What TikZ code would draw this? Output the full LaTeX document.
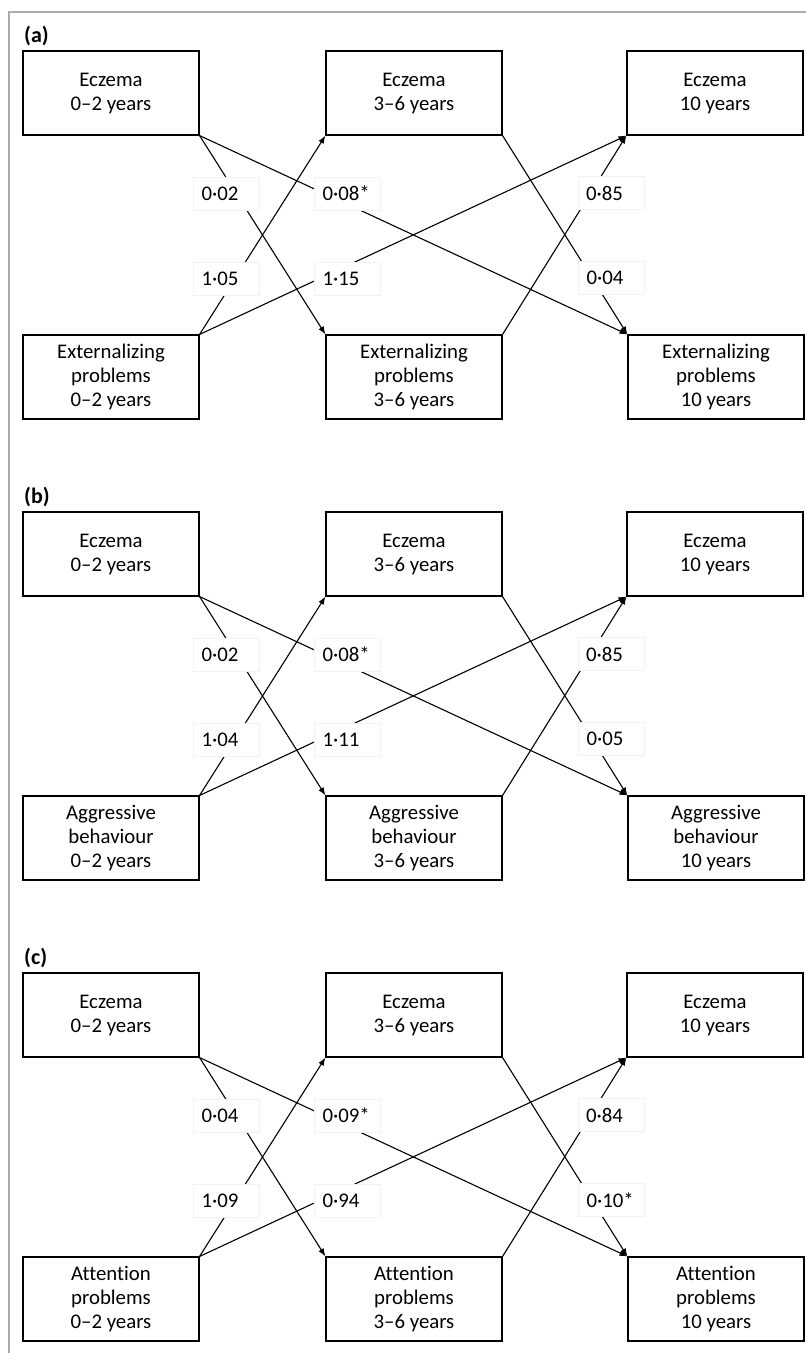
\documentclass[tikz,border=0pt]{standalone}
\usepackage{fontspec}
\setmainfont{Carlito}[Ligatures=NoCommon]
\usetikzlibrary{arrows.meta}
\tikzset{
  box/.style={draw, line width=1.1pt, minimum width=176pt, minimum height=84pt,
    align=center, inner sep=0pt, font=\fontsize{20.8}{24}\selectfont},
  lab/.style={fill=white, draw=black!5, line width=0.6pt, minimum height=33pt,
    text width=50pt, align=left, inner xsep=8pt, inner ysep=0pt,
    font=\fontsize{20.8}{24}\selectfont},
  arr/.style={line width=1.1pt, -{Latex[length=8pt,width=6pt]}},
  ptitle/.style={font=\fontsize{22}{24}\selectfont\bfseries, anchor=west, inner sep=0pt},
  frame/.style={draw=black!33, line width=2pt}
}
% #1 offset, #2 prefix, #3 letter, #4 bottom text, #5..#9 + \labsix
\newcommand{\mypanel}[9]{%
  \begin{scope}[yshift=-#1pt]
    \node[ptitle] (#2t) at (24,36) {(#3)};
    \node[box] (#2e02) at (111,93) {Eczema\\0–2 years};
    \node[box] (#2e36) at (414,93) {Eczema\\3–6 years};
    \node[box] (#2e10) at (715,93) {Eczema\\10 years};
    \node[box] (#2x02) at (111,377) {#4\\0–2 years};
    \node[box] (#2x36) at (414,377) {#4\\3–6 years};
    \node[box] (#2x10) at (716,377) {#4\\10 years};
    \draw[arr] (#2e02.south east) -- (#2x36.north west);
    \draw[arr] (#2e02.south east) -- (#2x10.north west);
    \draw[arr] (#2x02.north east) -- (#2e36.south west);
    \draw[arr] (#2x02.north east) -- (#2e10.south west);
    \draw[arr] (#2x36.north east) -- (#2e10.south west);
    \draw[arr] (#2e36.south east) -- (#2x10.north west);
    \node[lab] (#2l1) at (226.5,193.5) {#5};
    \node[lab] (#2l2) at (347.5,193.5) {#6};
    \node[lab] (#2l3) at (226.5,278.5) {#7};
    \node[lab] (#2l4) at (347.5,278.5) {#8};
    \node[lab] (#2l5) at (611,193) {#9};
    \node[lab] (#2l6) at (611.5,278) {\labsix};
  \end{scope}%
}
\begin{document}
\begin{tikzpicture}[x=1pt, y=-1pt]
  \useasboundingbox (0,0) rectangle (806,1353);
  \coordinate (fb) at (8.7,1353);
  \coordinate (fc) at (8.7,12);
  \coordinate (fr) at (806,12);
  \draw[frame] (fb) -- (fc) -- (fr);
  \def\labsix{0·04}
  \mypanel{0}{a}{a}{Externalizing\\problems}{0·02}{0·08*}{1·05}{1·15}{0·85}
  \def\labsix{0·05}
  \mypanel{461}{b}{b}{Aggressive\\behaviour}{0·02}{0·08*}{1·04}{1·11}{0·85}
  \def\labsix{0·10*}
  \mypanel{922}{c}{c}{Attention\\problems}{0·04}{0·09*}{1·09}{0·94}{0·84}
\end{tikzpicture}
\end{document}
